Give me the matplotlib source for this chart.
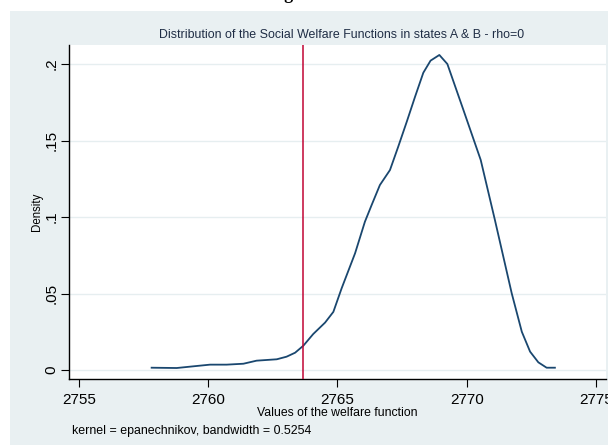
import matplotlib
matplotlib.use("Agg")
import matplotlib.pyplot as plt
from matplotlib.patches import Rectangle

# Data
welfare = [2757.81, 2758.78, 2759.42, 2760.07, 2760.71, 2761.36, 2761.87, 2762.65,
           2763.03, 2763.36, 2763.68, 2764.06, 2764.52, 2764.84, 2765.16, 2765.68,
           2766.06, 2766.32, 2766.64, 2767.03, 2767.35, 2767.68, 2768.00, 2768.32,
           2768.60, 2768.94, 2769.25, 2769.87, 2770.54, 2771.09, 2771.74, 2772.13,
           2772.45, 2772.77, 2773.09, 2773.41]
density = [0.0015, 0.0013, 0.0024, 0.0035, 0.0035, 0.0041, 0.0061, 0.0070,
           0.0087, 0.0113, 0.0159, 0.0235, 0.0310, 0.0380, 0.0534, 0.0763,
           0.0969, 0.1078, 0.1209, 0.1307, 0.1460, 0.1623, 0.1786, 0.1943,
           0.2022, 0.2059, 0.2000, 0.1700, 0.1373, 0.0980, 0.0501, 0.0250,
           0.0120, 0.0050, 0.0015, 0.0015]
ref_line = 2763.68
xticks = [2755, 2760, 2765, 2770, 2775]
yticks = [0, 0.05, 0.1, 0.15, 0.2]
ytick_labels = ["0", ".05", ".1", ".15", ".2"]

title = "Distribution of the Social Welfare Functions in states A & B - rho=0"
xlabel = "Values of the welfare function"
ylabel = "Density"
note = "kernel = epanechnikov, bandwidth = 0.5254"

plt.rcParams['font.family'] = ['Liberation Sans', 'DejaVu Sans']

W, H = 608, 445
fig = plt.figure(figsize=(W / 100, H / 100), dpi=100)
fig.patch.set_facecolor("white")
bg = "#e9f0f2"
fig.patches.append(Rectangle((10 / W, 0), 1 - 10 / W, (H - 11) / H,
                             transform=fig.transFigure, facecolor=bg,
                             edgecolor="none", zorder=-10))
# partially visible header text at top (cut off by the image edge)
fig.text(300 / W, 1 + 6 / H, "Figure 6", ha="center", va="center",
         fontsize=13, fontweight="bold", family="Liberation Serif", color="black")

left, right, bottom, top = 69, 606, 379, 44.7
ax = fig.add_axes([left / W, (H - bottom) / H, (right - left) / W, (bottom - top) / H])
ax.set_zorder(1)
ax.set_facecolor("white")

ax.plot(welfare, density, color="#1a476f", lw=1.3, zorder=3)
ax.axvline(ref_line, color="#c10534", lw=1.1, zorder=4)

ax.set_xlim(2755 - 10 / 25.85, 2755 + 527 / 25.85)
ax.set_ylim(-9 / 1530, 0.2 + 19.3 / 1530)
ax.set_xticks(xticks)
ax.set_xticklabels([str(t) for t in xticks], fontsize=11)
ax.set_yticks(yticks)
ax.set_yticklabels(ytick_labels, fontsize=11, rotation=90, va="center")
ax.grid(axis="y", color="#e6eef0", lw=1.0)
ax.set_axisbelow(True)
for s in ["top", "right"]:
    ax.spines[s].set_visible(False)
for s in ["left", "bottom"]:
    ax.spines[s].set_linewidth(1.0)
    ax.spines[s].set_color("black")
ax.tick_params(axis="both", direction="out", length=6, width=0.8, color="black")
ax.tick_params(axis="x", pad=4)
ax.tick_params(axis="y", pad=1.5)

ax.set_xlabel(xlabel, fontsize=8.8, labelpad=0)
ax.set_ylabel(ylabel, fontsize=8.3, labelpad=1)

fig.text(342 / W, (H - 34.5) / H, title, ha="center", va="center",
         fontsize=8.9, color="#1f2d45")
fig.text(72 / W, (H - 431) / H, note, ha="left", va="center",
         fontsize=8.9, color="black")

fig.savefig("out.png", dpi=100, facecolor="white")
